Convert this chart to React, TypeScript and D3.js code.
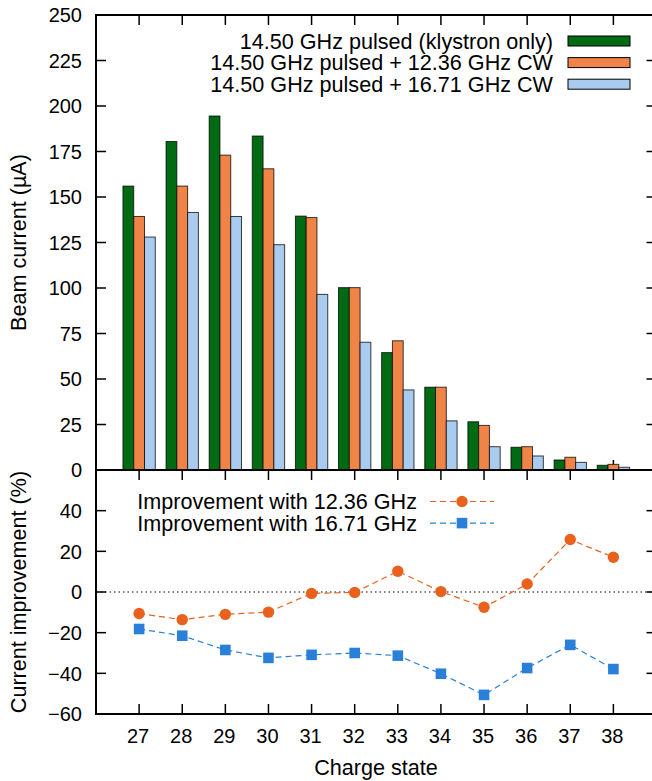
import React from "react";
import * as d3 from "d3";

// charge states
const charges = [27, 28, 29, 30, 31, 32, 33, 34, 35, 36, 37, 38];

// beam current (uA)
const klystronOnly = [156, 180.5, 194.5, 183.5, 139.5, 100.2, 64.5, 45.5, 26.5, 12.5, 5.5, 2.6];
const plus1236 = [139.3, 156, 173, 165.5, 138.7, 100.2, 71, 45.5, 24.5, 12.8, 7, 3.1];
const plus1671 = [128, 141.5, 139.3, 123.8, 96.5, 70.2, 44, 27, 12.8, 7.7, 4.2, 1.5];

// improvement (%)
const imp1236 = [-10.6, -13.6, -11, -9.9, -0.7, -0.2, 10.2, 0.2, -7.5, 3.9, 25.8, 17.1];
const imp1671 = [-18.2, -21.5, -28.5, -32.4, -30.9, -30, -31.3, -40.2, -50.6, -37.4, -26, -37.9];

const barLabels = [
  "14.50 GHz pulsed (klystron only)",
  "14.50 GHz pulsed + 12.36 GHz CW",
  "14.50 GHz pulsed + 16.71 GHz CW",
];
const barColors = ["#006b12", "#ef8446", "#a9cbf0"];
const lineLabels = ["Improvement with 12.36 GHz", "Improvement with 16.71 GHz"];
const lineColors = ["#e8621e", "#2a80d8"];

const topTicks = [0, 25, 50, 75, 100, 125, 150, 175, 200, 225, 250];
const bottomTicks = [-60, -40, -20, 0, 20, 40];

const W = 652;
const H = 781;
const FONT = "'Liberation Sans', Arial, Helvetica, sans-serif";
const TICK_FS = 20;
const LABEL_FS = 21.6;

export default function App() {
  const left = 96;
  const right = 656.5;
  const top1 = 15;
  const bot1 = 470;
  const bot2 = 714;

  const x = d3.scaleLinear().domain([26, 39]).range([left, right]);
  const y1 = d3.scaleLinear().domain([0, 250]).range([bot1, top1]);
  const y2 = d3.scaleLinear().domain([-60, 60]).range([bot2, bot1]);
  const step = x(28) - x(27);
  const bw = step * 0.25;

  const series = [klystronOnly, plus1236, plus1671];
  const lines = [imp1236, imp1671];
  const lineGen = (vals: number[]) =>
    d3.line<number>().x((_, i) => x(charges[i])).y((d) => y2(d))(vals) || "";

  const tl = 10;

  return (
    <div style={{ position: "absolute", left: 0, top: 0 }}>
      <svg width={W} height={H} style={{ display: "block", fontFamily: FONT }}>
        <rect width={W} height={H} fill="#fff" />

        {/* ticks behind bars */}
        {charges.map((c) => (
          <g key={"xt" + c} stroke="#000" strokeWidth={1.5}>
            <line x1={x(c)} x2={x(c)} y1={top1} y2={top1 + tl} />
            <line x1={x(c)} x2={x(c)} y1={bot1} y2={bot1 - tl} />
            <line x1={x(c)} x2={x(c)} y1={bot1} y2={bot1 + tl} />
            <line x1={x(c)} x2={x(c)} y1={bot2} y2={bot2 - tl} />
          </g>
        ))}
        {topTicks.map((t) => (
          <g key={"yt" + t} stroke="#000" strokeWidth={1.5}>
            <line x1={left} x2={left + tl} y1={y1(t)} y2={y1(t)} />
            <line x1={right} x2={right - tl} y1={y1(t)} y2={y1(t)} />
          </g>
        ))}
        {bottomTicks.map((t) => (
          <g key={"yb" + t} stroke="#000" strokeWidth={1.5}>
            <line x1={left} x2={left + tl} y1={y2(t)} y2={y2(t)} />
            <line x1={right} x2={right - tl} y1={y2(t)} y2={y2(t)} />
          </g>
        ))}

        {/* bars */}
        {series.map((vals, s) =>
          vals.map((v, i) => (
            <rect
              key={"b" + s + "-" + i}
              x={x(charges[i]) - 1.5 * bw + s * bw}
              y={y1(v)}
              width={bw}
              height={bot1 - y1(v)}
              fill={barColors[s]}
              stroke="#000"
              strokeOpacity={0.75}
              strokeWidth={1}
            />
          ))
        )}

        {/* zero line */}
        <line
          x1={left}
          x2={right}
          y1={y2(0)}
          y2={y2(0)}
          stroke="#000"
          strokeWidth={1}
          strokeDasharray="1.5,3"
        />

        {/* improvement lines */}
        {lines.map((vals, s) => (
          <g key={"l" + s}>
            <path
              d={lineGen(vals)}
              fill="none"
              stroke={lineColors[s]}
              strokeWidth={1.2}
              strokeDasharray="6,4"
            />
            {vals.map((v, i) =>
              s === 0 ? (
                <circle key={i} cx={x(charges[i])} cy={y2(v)} r={5.7} fill={lineColors[s]} />
              ) : (
                <rect
                  key={i}
                  x={x(charges[i]) - 5.3}
                  y={y2(v) - 5.3}
                  width={10.6}
                  height={10.6}
                  fill={lineColors[s]}
                />
              )
            )}
          </g>
        ))}

        {/* frames */}
        <g fill="none" stroke="#000" strokeWidth={2}>
          <rect x={left} y={top1} width={right - left} height={bot1 - top1} />
          <rect x={left} y={bot1} width={right - left} height={bot2 - bot1} />
        </g>

        {/* tick labels */}
        <g fontSize={TICK_FS} fill="#000">
          {topTicks.map((t) => (
            <text key={"tl" + t} x={82} y={y1(t)} dy="0.36em" textAnchor="end">
              {t}
            </text>
          ))}
          {bottomTicks.map((t) => (
            <text key={"bl" + t} x={82} y={y2(t)} dy="0.36em" textAnchor="end">
              {t < 0 ? "\u2212" + Math.abs(t) : t}
            </text>
          ))}
          {charges.map((c) => (
            <text key={"cl" + c} x={x(c) - 1} y={743} textAnchor="middle">
              {c}
            </text>
          ))}
        </g>

        {/* axis titles */}
        <g fontSize={LABEL_FS}>
          <text x={376} y={775} textAnchor="middle">
            Charge state
          </text>
          <text transform={`translate(26,${(top1 + bot1) / 2}) rotate(-90)`} textAnchor="middle">
            Beam current (µA)
          </text>
          <text transform={`translate(26,${(bot1 + bot2) / 2}) rotate(-90)`} textAnchor="middle">
            Current improvement (%)
          </text>
        </g>

        {/* bar legend */}
        {barLabels.map((lab, i) => {
          const cy = 41 + i * 21.6;
          return (
            <g key={"bl" + i}>
              <text x={553} y={cy} dy="0.36em" fontSize={LABEL_FS} textAnchor="end">
                {lab}
              </text>
              <rect
                x={568}
                y={cy - 5}
                width={62}
                height={10}
                fill={barColors[i]}
                stroke="#000"
                strokeWidth={1}
              />
            </g>
          );
        })}

        {/* line legend */}
        {lineLabels.map((lab, i) => {
          const cy = 501.5 + i * 21.6;
          const mx = 462;
          return (
            <g key={"ll" + i}>
              <text x={417} y={cy} dy="0.36em" fontSize={LABEL_FS} textAnchor="end">
                {lab}
              </text>
              <line
                x1={430}
                x2={494}
                y1={cy}
                y2={cy}
                stroke={lineColors[i]}
                strokeWidth={1.2}
                strokeDasharray="6,4"
              />
              {i === 0 ? (
                <circle cx={mx} cy={cy} r={5.7} fill={lineColors[i]} />
              ) : (
                <rect x={mx - 5.3} y={cy - 5.3} width={10.6} height={10.6} fill={lineColors[i]} />
              )}
            </g>
          );
        })}
      </svg>
    </div>
  );
}
